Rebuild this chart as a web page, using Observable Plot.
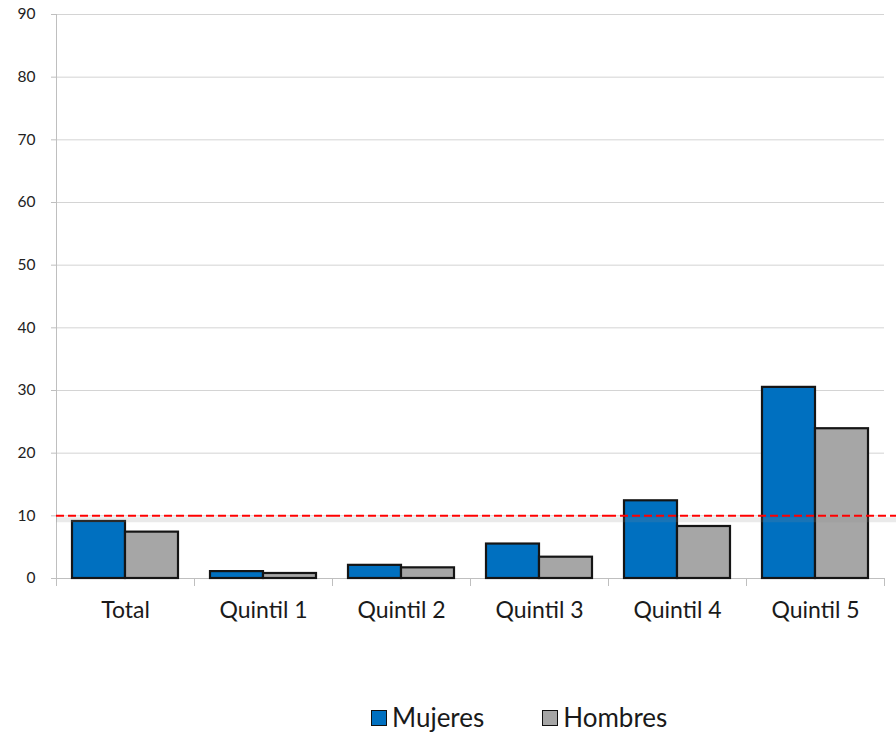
<!DOCTYPE html>
<html><head><meta charset="utf-8">
<script src="https://cdn.jsdelivr.net/npm/d3@7"></script>
<script src="https://cdn.jsdelivr.net/npm/@observablehq/plot@0.6"></script>
<style>
body{margin:0;background:#fff;font-family:Lato,"Open Sans",sans-serif;}
#legend{display:flex;align-items:center;margin-left:371px;margin-top:43px;font-size:26px;color:#1a1a1a;line-height:29px}
.item{display:flex;align-items:center;margin-right:58px}
.sw{width:14px;height:14px;border:1.8px solid #111;display:inline-block;margin-right:5px}
</style></head><body>
<div id="chart"></div>
<div id="legend"></div>
<script>
const categories = ["Total", "Quintil 1", "Quintil 2", "Quintil 3", "Quintil 4", "Quintil 5"];
const series = ["Mujeres", "Hombres"];
const mujeres = [9.1, 1.1, 2.1, 5.5, 12.4, 30.5];
const hombres = [7.4, 0.8, 1.7, 3.4, 8.3, 23.9];
const referencia = 10;
const yTicks = [0, 10, 20, 30, 40, 50, 60, 70, 80, 90];
const colors = ["#0070C0", "#A6A6A6"];

const rows = categories.flatMap((c, i) => [
  {cat: c, serie: series[0], v: mujeres[i]},
  {cat: c, serie: series[1], v: hombres[i]}
]);
const refRows = categories.map(c => ({cat: c, v: referencia}));
const last = categories[categories.length - 1];
const refInner = refRows.filter(d => d.cat !== last);
const refLast = refRows.filter(d => d.cat === last);

const chart = Plot.plot({
  width: 896, height: 660,
  marginLeft: 56, marginRight: 12, marginTop: 14, marginBottom: 82,
  style: {fontFamily: "Lato, 'Open Sans', sans-serif", fontSize: "15px", color: "#222", background: "white"},
  fx: {domain: categories, padding: 0, label: null},
  x: {domain: series, paddingInner: 0, paddingOuter: 0.3, axis: null},
  y: {domain: [0, 90], label: null},
  color: {domain: series, range: colors},
  marks: [
    Plot.gridY(yTicks, {stroke: "#d4d4d4", strokeOpacity: 1}),
    Plot.frame({anchor: "left", stroke: "#bfbfbf", insetTop: 564, insetBottom: -7}),
    Plot.frame({anchor: "right", stroke: "#bfbfbf", insetTop: 564, insetBottom: -7}),
    Plot.frame({anchor: "left", stroke: "#bfbfbf", insetBottom: -7, fx: () => "Total"}),
    Plot.ruleY([0], {stroke: "#bfbfbf"}),
    Plot.axisY(yTicks, {tickSize: 5, tickPadding: 16, stroke: "#bfbfbf", fill: "#222", fontSize: 15.5, label: null}),
    Plot.barY(rows, {fx: "cat", x: "serie", y: "v", fill: "serie", stroke: "#151515", strokeWidth: 2.2}),
    Plot.ruleY(refInner, {fx: "cat", y: "v", stroke: "#888", strokeOpacity: 0.18, strokeWidth: 5, dy: 4}),
    Plot.ruleY(refLast, {fx: "cat", y: "v", stroke: "#888", strokeOpacity: 0.18, strokeWidth: 5, dy: 4, insetRight: -12}),
    Plot.ruleY(refInner, {fx: "cat", y: "v", stroke: "#ff0000", strokeWidth: 2, strokeDasharray: "8,4"}),
    Plot.ruleY(refLast, {fx: "cat", y: "v", stroke: "#ff0000", strokeWidth: 2, strokeDasharray: "8,4", insetRight: -12}),
    Plot.axisFx({anchor: "bottom", tickSize: 0, tickPadding: 23, fontSize: 23, fill: "#1a1a1a", label: null})
  ]
});
document.getElementById("chart").appendChild(chart);

const legend = document.getElementById("legend");
series.forEach((s, i) => {
  const item = document.createElement("div");
  item.className = "item";
  const sw = document.createElement("span");
  sw.className = "sw";
  sw.style.background = colors[i];
  item.appendChild(sw);
  item.appendChild(document.createTextNode(s));
  legend.appendChild(item);
});
</script>
</body></html>
